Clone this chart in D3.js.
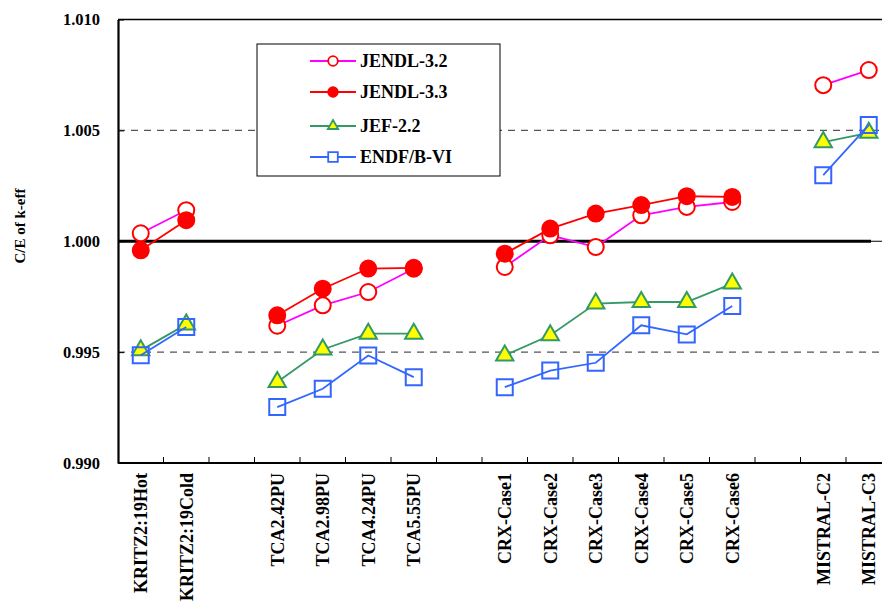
<!DOCTYPE html>
<html><head><meta charset="utf-8">
<script src="https://cdn.jsdelivr.net/npm/d3@7"></script>
<style>
body{margin:0;background:#fff;}
svg text{font-family:"Liberation Serif","Times New Roman",serif;font-weight:bold;}
</style></head>
<body><svg id="c" width="882" height="608"></svg>
<script>
const categories = ["KRITZ2:19Hot","KRITZ2:19Cold","","TCA2.42PU","TCA2.98PU","TCA4.24PU","TCA5.55PU","",
  "CRX-Case1","CRX-Case2","CRX-Case3","CRX-Case4","CRX-Case5","CRX-Case6","","MISTRAL-C2","MISTRAL-C3"];
const jendl32 = [1.00036,1.00140,null,0.99619,0.99711,0.99771,0.99876,null,0.99884,1.00027,0.99974,1.00117,1.00155,1.00177,null,1.00704,1.00772];
const jendl33 = [0.99959,1.00095,null,0.99666,0.99786,0.99877,0.99880,null,0.99944,1.00057,1.00125,1.00163,1.00203,1.00200,null,null,null];
const jef22   = [0.99508,0.99625,null,0.99365,0.99512,0.99583,0.99583,null,0.99485,0.99576,0.99719,0.99726,0.99726,0.99809,null,1.00447,1.00489];
const endfb6  = [0.99486,0.99613,null,0.99252,0.99335,0.99485,0.99387,null,0.99342,0.99417,0.99452,0.99621,0.99580,0.99708,null,1.00298,1.00524];
const yTicks = [0.990,0.995,1.000,1.005,1.010];
const seriesNames = ["JENDL-3.2","JENDL-3.3","JEF-2.2","ENDF/B-VI"];

const svg = d3.select("#c");
const L = 118, T = 19.5, B = 463, step = 45.5;
const x = d3.scaleBand().domain(d3.range(categories.length)).range([L, L + step*categories.length]).paddingInner(0).paddingOuter(0);
const y = d3.scaleLinear().domain([0.990,1.010]).range([B,T]);
const cx = i => x(i) + x.bandwidth()/2;

// gridlines
svg.append("g").selectAll("line").data([0.995,1.005]).join("line")
  .attr("x1",L).attr("x2",882).attr("y1",d=>y(d)).attr("y2",d=>y(d))
  .attr("stroke","#555").attr("stroke-width",1.2).attr("stroke-dasharray","7,6");
svg.append("line").attr("x1",L).attr("x2",882).attr("y1",y(1.000)).attr("y2",y(1.000)).attr("stroke","#000").attr("stroke-width",1);
svg.append("line").attr("x1",L).attr("x2",871).attr("y1",y(1.000)).attr("y2",y(1.000)).attr("stroke","#000").attr("stroke-width",3.2);

// frame
svg.append("line").attr("x1",L).attr("x2",882).attr("y1",T).attr("y2",T).attr("stroke","#000").attr("stroke-width",1.5);

// y axis
const ya = svg.append("g").attr("transform",`translate(${L},0)`)
  .call(d3.axisLeft(y).tickValues(yTicks).tickFormat(d3.format(".3f")).tickSizeInner(-6).tickSizeOuter(0).tickPadding(18));
ya.select(".domain").attr("stroke-width",2.2);
ya.selectAll(".tick line").attr("stroke-width",1);
ya.selectAll("text").attr("font-size",16.5).attr("fill","#000");

// x axis
const xa = svg.append("g").attr("transform",`translate(0,${B})`)
  .call(d3.axisBottom(x).tickFormat(i=>categories[i]).tickSize(0).tickPadding(0));
xa.select(".domain").attr("stroke-width",2.2).attr("d",`M${L},0H882`);
xa.selectAll("text").attr("font-size",18).attr("fill","#000")
  .attr("transform","rotate(-90)").attr("text-anchor","end").attr("dy","0.35em").attr("x",-10).attr("y",0);
svg.append("g").selectAll("line").data(d3.range(1,categories.length)).join("line")
  .attr("x1",d=>x(d)).attr("x2",d=>x(d)).attr("y1",B).attr("y2",B-6).attr("stroke","#000").attr("stroke-width",1);

// y title
svg.append("text").attr("transform","translate(20,226) rotate(-90)").attr("text-anchor","middle")
  .attr("dy","0.35em").attr("font-size",15).text("C/E of k-eff");

const line = d3.line().defined(d=>d.v!=null).x(d=>cx(d.i)).y(d=>y(d.v));
const toPts = arr => arr.map((v,i)=>({i,v}));
const styles = [
  {data:jendl32, line:"#ff00ff", sym:"circle", fill:"#fff", stroke:"#ff0000"},
  {data:jendl33, line:"#ff0000", sym:"circle", fill:"#ff0000", stroke:"#ff0000"},
  {data:jef22, line:"#339966", sym:"tri", fill:"#ffff00", stroke:"#339966"},
  {data:endfb6, line:"#3366ff", sym:"sq", fill:"none", stroke:"#3366ff"}
];
const symPath = (s, scale) => {
  if (s==="tri") return d3.symbol(d3.symbolTriangle, 130*scale*scale)();
  if (s==="sq") { const h=8*scale; return `M${-h},${-h}H${h}V${h}H${-h}Z`; }
  return d3.symbol(d3.symbolCircle, Math.PI*64*scale*scale)();
};
styles.forEach(s=>{
  const g = svg.append("g");
  g.append("path").attr("d",line(toPts(s.data))).attr("fill","none").attr("stroke",s.line).attr("stroke-width",1.8);
  g.selectAll("path.m").data(toPts(s.data).filter(d=>d.v!=null)).join("path").attr("class","m")
    .attr("d",symPath(s.sym,1)).attr("transform",d=>`translate(${cx(d.i)},${y(d.v)})`)
    .attr("fill",s.fill).attr("stroke",s.stroke).attr("stroke-width",2);
});

// legend
const lg = svg.append("g");
lg.append("rect").attr("x",257).attr("y",44).attr("width",243).attr("height",132).attr("fill","#fff").attr("stroke","#000").attr("stroke-width",1);
const ly = [61,92,126,157];
styles.forEach((s,k)=>{
  lg.append("line").attr("x1",310).attr("x2",356).attr("y1",ly[k]).attr("y2",ly[k]).attr("stroke",s.line).attr("stroke-width",1.8);
  lg.append("path").attr("d",symPath(s.sym,0.6)).attr("transform",`translate(333,${ly[k]})`)
    .attr("fill",s.sym==="sq"?"#fff":s.fill).attr("stroke",s.stroke).attr("stroke-width",1.8);
  lg.append("text").attr("x",360).attr("y",ly[k]).attr("dy","0.35em").attr("font-size",18).text(seriesNames[k]);
});
</script></body></html>
